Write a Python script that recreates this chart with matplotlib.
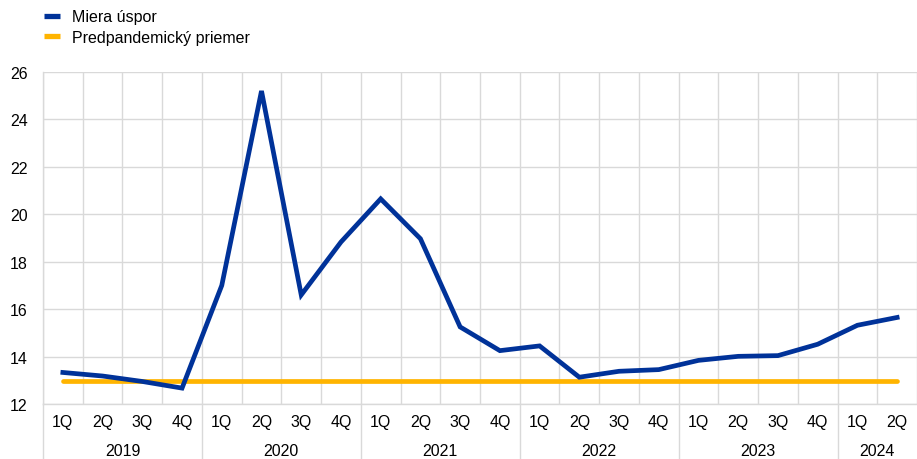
import numpy as np
import matplotlib.pyplot as plt
from matplotlib.lines import Line2D

plt.rcParams['font.family'] = ['Liberation Sans', 'DejaVu Sans']

# --------------------------------
# Data: household saving rate, quarterly
# --------------------------------
years = ["2019", "2020", "2021", "2022", "2023", "2024"]
quarters = ["1Q", "2Q", "3Q", "4Q"]
saving_rate = [13.33, 13.18, 12.95, 12.67,
               17.0, 25.2, 16.6, 18.83,
               20.65, 18.97, 15.25, 14.25,
               14.45, 13.13, 13.38, 13.45,
               13.84, 14.01, 14.04, 14.52,
               15.32, 15.65]
pre_pandemic_avg = 12.96

blue = "#003299"
orange = "#FFB400"
grid_col = "#d9d9d9"

n = len(saving_rate)
x = np.arange(n)
qlabels = [quarters[i % 4] for i in range(n)]

fig = plt.figure(figsize=(9.17, 4.6), dpi=100)
ax = fig.add_axes([43 / 917, 1 - 405 / 460, 1 - 43 / 917, (405 - 73) / 460])

ax.plot(x, [pre_pandemic_avg] * n, color=orange, lw=3.4, solid_capstyle="round", zorder=3)
ax.plot(x, saving_rate, color=blue, lw=3.4, solid_joinstyle="miter", zorder=4)

ax.set_xlim(-0.5, 21.35)
ax.set_ylim(12, 26)
ax.set_yticks(np.arange(12, 27, 2))
ax.tick_params(axis="y", length=0, pad=11, labelsize=11.5)

# quarter gridlines between categories
ax.set_xticks(np.arange(-0.5, n, 1), minor=False)
ax.set_xticklabels([])
ax.tick_params(axis="x", length=0)
ax.grid(True, color=grid_col, lw=1.0)
ax.set_axisbelow(True)

for s in ["top", "right"]:
    ax.spines[s].set_visible(False)
for s in ["left", "bottom"]:
    ax.spines[s].set_color(grid_col)
    ax.spines[s].set_linewidth(1.0)

# quarter and year labels below the axis
trans = ax.get_xaxis_transform()
for i, lab in enumerate(qlabels):
    ax.text(i, -18 / 332, lab, transform=trans, ha="center", va="center", fontsize=11.5)
for k, yr in enumerate(years):
    start = 4 * k - 0.5
    end = min(4 * k + 3.5, n - 0.5)
    ax.text((start + end) / 2, -47 / 332, yr, transform=trans, ha="center", va="center",
            fontsize=11.5)
    ax.plot([start, start], [0, -56 / 332], transform=trans, color=grid_col, lw=1.0,
            clip_on=False)

handles = [Line2D([], [], color=blue, lw=3.8, solid_capstyle="butt"),
           Line2D([], [], color=orange, lw=3.8, solid_capstyle="butt")]
fig.legend(handles, ["Miera úspor", "Predpandemický priemer"], loc="upper left",
           bbox_to_anchor=(38 / 917, 1 - 4 / 460), frameon=False, fontsize=11.5,
           handlelength=1.0, handletextpad=0.7, labelspacing=0.35, borderaxespad=0)

fig.savefig("out.png", dpi=100)
